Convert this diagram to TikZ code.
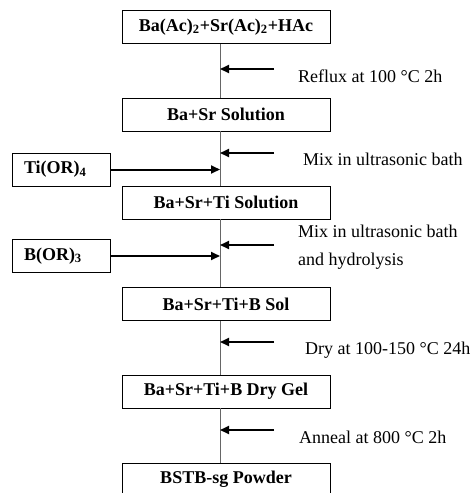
\documentclass[tikz,border=0pt]{standalone}
\usepackage{fontspec}
\setmainfont{Liberation Serif}
\usepackage{tikz}
\usetikzlibrary{arrows.meta,positioning}
\tikzstyle{block} = [rectangle, draw, line width=0.8pt, minimum width=208pt, minimum height=33pt, inner sep=0pt, font=\bfseries\fontsize{18}{22}\selectfont]
\tikzstyle{reagent} = [rectangle, draw, line width=0.8pt, text width=74pt, inner xsep=12pt, minimum height=33pt, align=left, font=\bfseries\fontsize{18}{22}\selectfont]
\tikzstyle{note} = [anchor=west, inner sep=0pt, align=left, font=\fontsize{18}{28}\selectfont]
\tikzstyle{flow} = [draw=black!60, line width=1pt]
\tikzstyle{feed} = [-{Triangle[length=9pt,width=8pt]}, line width=2pt]

\begin{document}
\begin{tikzpicture}[x=1pt, y=1pt]
  \useasboundingbox (0,0) rectangle (473,-493);
  \coordinate (spine) at (220,0);
  % main route
  \node[block] (acetates) at (226,-27) {Ba(Ac)\textsubscript{2}+Sr(Ac)\textsubscript{2}+HAc};
  \node[block] (basr)     at (226,-114.5) {Ba+Sr Solution};
  \node[block] (basrti)   at (226,-202.5) {Ba+Sr+Ti Solution};
  \node[block] (sol)      at (226,-304) {Ba+Sr+Ti+B Sol};
  \node[block] (gel)      at (226,-391.5) {Ba+Sr+Ti+B Dry Gel};
  \node[block] (powder)   at (226,-479.5) {BSTB-sg Powder};
  % reagents added on the left
  \node[reagent] (ti) at (61,-169.5) {Ti(OR)\textsubscript{4}};
  \node[reagent] (bor) at (61,-256) {B(OR)\textsubscript{3}};
  % process conditions
  \node[note] (reflux) at (298,-76) {Reflux at 100 °C 2h};
  \node[note] (mix)    at (303,-159) {Mix in ultrasonic bath};
  \node[note] (hydro)  at (298,-247) {Mix in ultrasonic bath\\and hydrolysis};
  \node[note] (dry)    at (305,-350) {Dry at 100-150 °C 24h};
  \node[note] (anneal) at (299,-437) {Anneal at 800 °C 2h};
  \coordinate (c1) at (274,-69);
  \coordinate (c2) at (274,-153);
  \coordinate (c3) at (274,-245);
  \coordinate (c4) at (274,-342);
  \coordinate (c5) at (274,-430);

  \draw[flow] (acetates.south -| spine) -- (basr.north -| spine);
  \draw[flow] (basr.south -| spine) -- (basrti.north -| spine);
  \draw[flow] (basrti.south -| spine) -- (sol.north -| spine);
  \draw[flow] (sol.south -| spine) -- (gel.north -| spine);
  \draw[flow] (gel.south -| spine) -- (powder.north -| spine);

  \draw[feed] (ti.east) -- (ti.east -| spine);
  \draw[feed] (bor.east) -- (bor.east -| spine);
  \foreach \c in {c1,c2,c3,c4,c5}
    \draw[feed] (\c) -- (\c -| spine);
\end{tikzpicture}
\end{document}
